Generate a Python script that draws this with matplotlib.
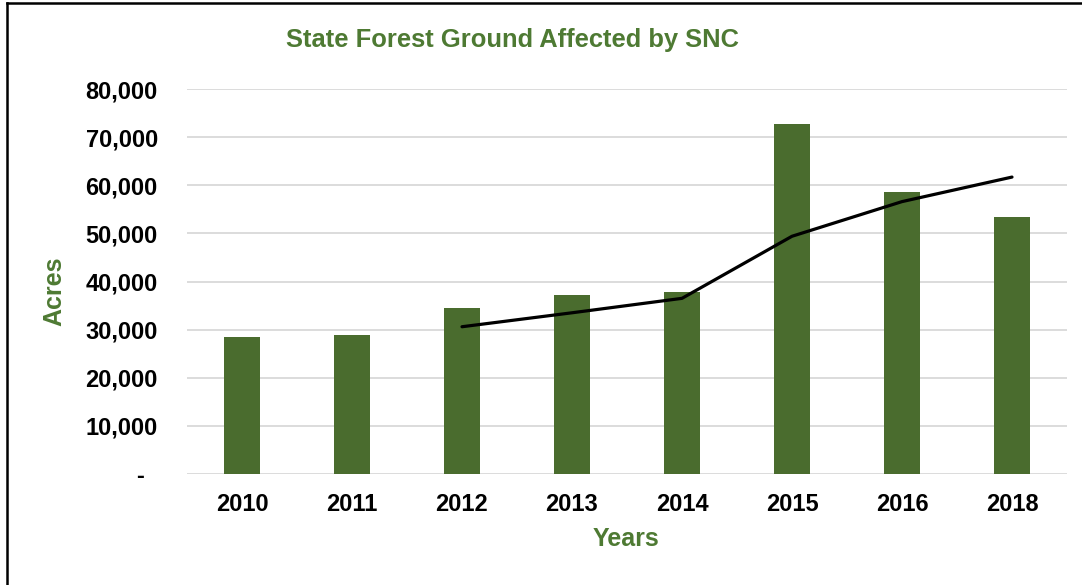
import matplotlib
matplotlib.use("Agg")
import matplotlib.pyplot as plt
from matplotlib.lines import Line2D
from matplotlib.ticker import FuncFormatter

years = ["2010", "2011", "2012", "2013", "2014", "2015", "2016", "2018"]
acres = [28500, 28800, 34400, 37200, 37800, 72800, 58600, 53500]
# trend line (starts at 2012)
trend_years = ["2012", "2013", "2014", "2015", "2016", "2018"]
trend = [30600, 33500, 36500, 49400, 56600, 61700]

GREEN_BAR = "#4a6c2e"
GREEN_TXT = "#4e7a33"

plt.rcParams["font.family"] = ["Liberation Sans", "DejaVu Sans"]

W, H = 1082, 585
fig = plt.figure(figsize=(W / 100, H / 100), dpi=100)
fig.patch.set_facecolor("white")
ax = fig.add_axes([187 / W, 1 - 474 / H, (1067 - 187) / W, (474 - 89) / H])

x = list(range(len(years)))
ax.bar(x, acres, width=0.32, color=GREEN_BAR, zorder=2)
tx = [years.index(y) for y in trend_years]
ax.plot(tx, trend, color="black", lw=2.3, solid_capstyle="round", zorder=3)

ax.set_xlim(-0.5, len(years) - 0.5)
ax.set_ylim(0, 80000)
ax.set_yticks(range(0, 80001, 10000))
ax.yaxis.set_major_formatter(FuncFormatter(lambda v, p: "-  " if v == 0 else f"{v:,.0f}"))
ax.set_xticks(x)
ax.set_xticklabels(years)
ax.tick_params(axis="both", length=0, labelsize=17)
ax.tick_params(axis="y", pad=21)
ax.tick_params(axis="x", pad=14)
for lab in ax.get_xticklabels() + ax.get_yticklabels():
    lab.set_fontweight("bold")
ax.grid(axis="y", color="#d9d9d9", lw=1.3, zorder=0)
ax.set_axisbelow(True)
for s in ax.spines.values():
    s.set_visible(False)

fig.text(512 / W, 1 - 40 / H, "State Forest Ground Affected by SNC", ha="center",
         va="center", fontsize=18.4, fontweight="bold", color=GREEN_TXT)
fig.text(626 / W, 1 - 539 / H, "Years", ha="center", va="center",
         fontsize=18, fontweight="bold", color=GREEN_TXT)
fig.text(54 / W, 1 - 291 / H, "Acres", ha="center", va="center", rotation=90,
         fontsize=18, fontweight="bold", color=GREEN_TXT)

# partial frame of the screenshot (left and top edges)
fig.add_artist(Line2D([7 / W, 7 / W], [0, 1 - 3 / H], transform=fig.transFigure,
                      color="black", lw=1.8))
fig.add_artist(Line2D([7 / W, 1], [1 - 3 / H, 1 - 3 / H], transform=fig.transFigure,
                      color="black", lw=1.8))

fig.savefig("out.png", dpi=100, facecolor="white")
